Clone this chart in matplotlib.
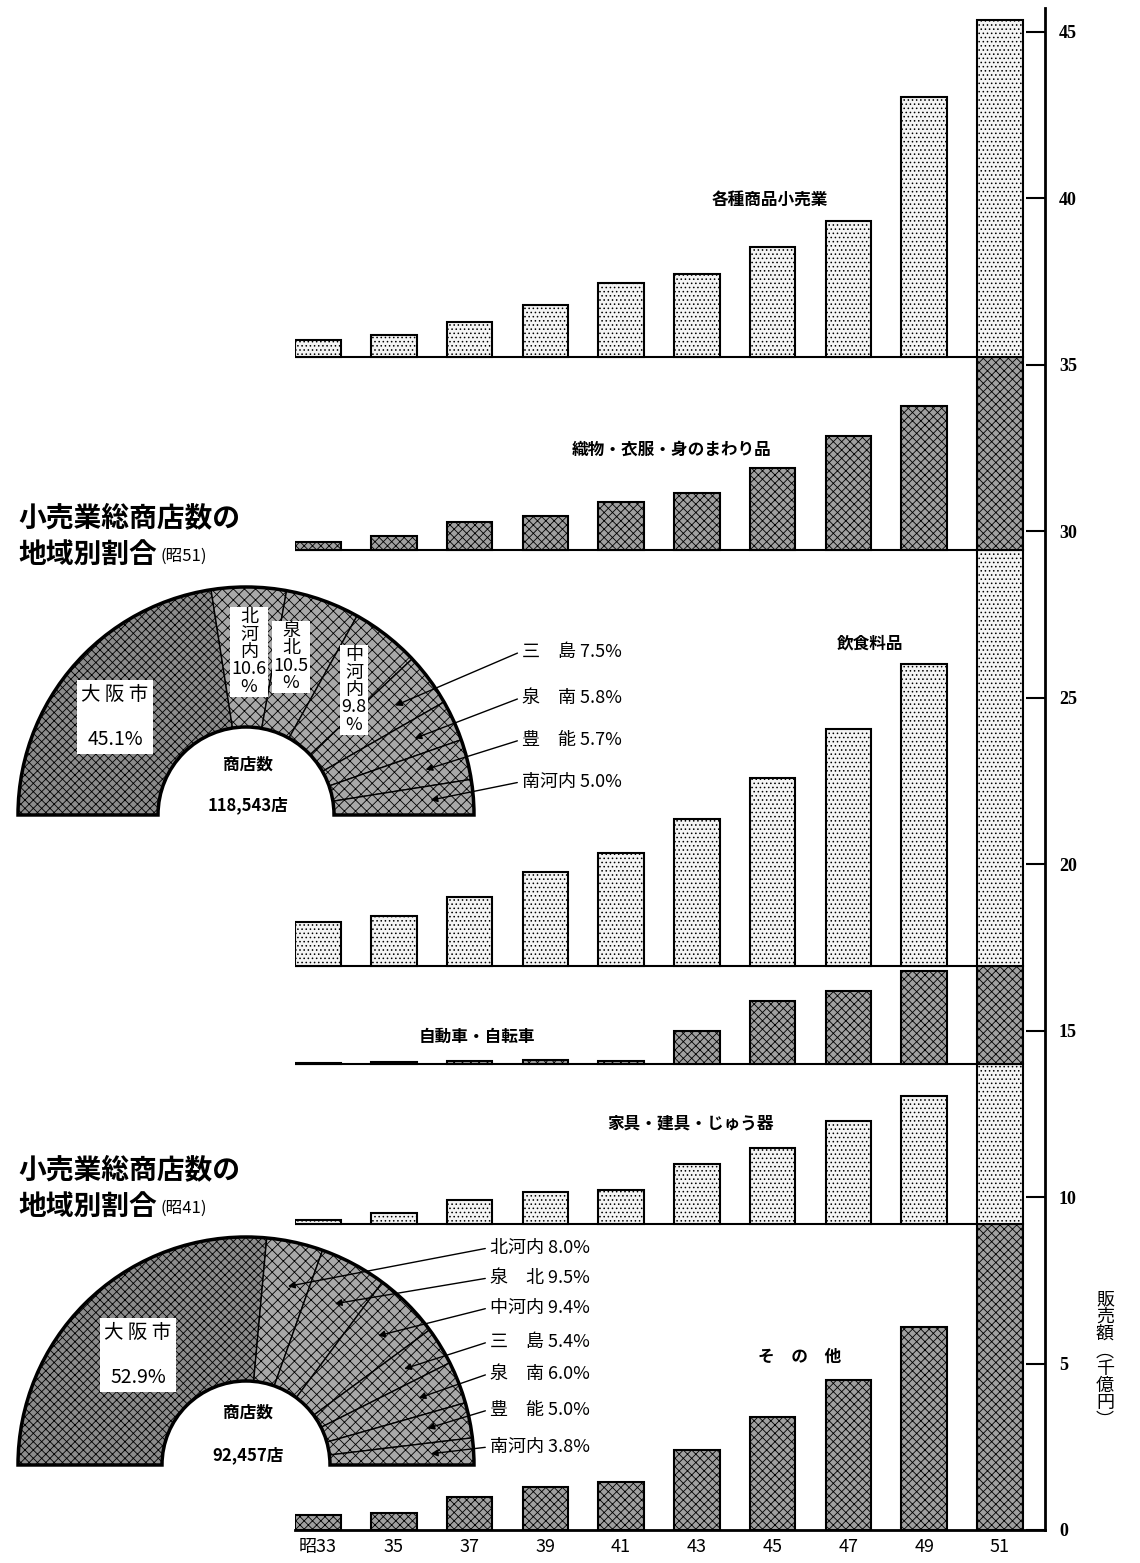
import numpy as np
import matplotlib
matplotlib.use('Agg')
import matplotlib.pyplot as plt

plt.rcParams['font.family'] = ['Noto Sans CJK JP', 'DejaVu Sans']
plt.rcParams['hatch.linewidth'] = 0.6

# 販売額 (千億円), each category drawn on its own band
years = ['昭33', '35', '37', '39', '41', '43', '45', '47', '49', '51']
sonota = [0.45, 0.5, 1.0, 1.3, 1.45, 2.4, 3.4, 4.5, 6.1, 9.2]
kagu = [0.12, 0.33, 0.72, 0.96, 1.02, 1.8, 2.28, 3.1, 3.85, 4.8]
jidosha = [0.03, 0.06, 0.09, 0.12, 0.09, 1.0, 1.9, 2.2, 2.8, 2.95]
inshoku = [1.32, 1.5, 2.07, 2.82, 3.4, 4.4, 5.65, 7.1, 9.07, 12.5]
orimono = [0.24, 0.42, 0.84, 1.02, 1.44, 1.71, 2.46, 3.4, 4.33, 5.8]
kakushu = [0.51, 0.66, 1.05, 1.56, 2.22, 2.49, 3.3, 4.08, 7.8, 10.1]
cat_labels = ['そ　の　他', '家具・建具・じゅう器', '自動車・自転車', '飲食料品',
              '織物・衣服・身のまわり品', '各種商品小売業']

# 小売業総商店数の地域別割合 (%)
regions = ['大阪市', '北河内', '泉北', '中河内', '三島', '泉南', '豊能', '南河内']
share51 = [45.1, 10.6, 10.5, 9.8, 7.5, 5.8, 5.7, 5.0]
share41 = [52.9, 8.0, 9.5, 9.4, 5.4, 6.0, 5.0, 3.8]
shops51 = '118,543店'
shops41 = '92,457店'

W, H = 1140, 1563
fig = plt.figure(figsize=(W / 100, H / 100), dpi=100)


def fx(x):
    return x / W


def fy(y):
    return 1 - y / H


dot = dict(facecolor='#f4f4f4', edgecolor='black', hatch='....', linewidth=1.5)
dark = dict(facecolor='#a0a0a0', edgecolor='black', hatch='xxxx', linewidth=1.5)

# ---- bar chart ----
y0_px, y45_px, top_px = 1530, 32, 8
ppu = (y0_px - y45_px) / 45
left_px, right_px = 295, 1045
ax = fig.add_axes([fx(left_px), fy(y0_px), (right_px - left_px) / W, (y0_px - top_px) / H])
x = np.arange(len(years))
step = (1000 - 318) / 9
ax.set_xlim((left_px - 318) / step, (right_px - 318) / step)
ax.set_ylim(0, (y0_px - top_px) / ppu)

series = [sonota, kagu, jidosha, inshoku, orimono, kakushu]
styles = [dark, dot, dark, dot, dark, dot]
width = 0.6
base = 0
for vals, st in zip(series, styles):
    ax.bar(x, vals, width=width, bottom=base, zorder=3, **st)
    if base > 0:
        ax.hlines(base, ax.get_xlim()[0], x[-1] - width / 2, color='black', lw=1.5, zorder=2)
    base += vals[-1]

ax.yaxis.tick_right()
ax.set_yticks(range(0, 46, 5))
ax.tick_params(axis='y', direction='in', length=14, width=1.5, pad=10)
for lab in ax.get_yticklabels():
    lab.set_family(['Liberation Serif'])
    lab.set_fontweight('bold')
    lab.set_fontsize(13)
ax.set_xticks(x)
ax.set_xticklabels(years, fontsize=13)
ax.tick_params(axis='x', length=0, pad=6)
for s in ['left', 'top']:
    ax.spines[s].set_visible(False)
ax.spines['right'].set_linewidth(2)
ax.spines['bottom'].set_linewidth(2)
ax.patch.set_visible(False)

cat_pos = [(800, 1357), (690, 1124), (477, 1037), (870, 643), (672, 450), (770, 200)]
for lab, (px, py) in zip(cat_labels, cat_pos):
    fig.text(fx(px), fy(py), lab, ha='center', va='center', fontsize=12, fontweight='bold')

fig.text(fx(1105), fy(1360), '販\n売\n額\n︵\n千\n億\n円\n︶', ha='center', va='center',
         fontsize=13, linespacing=0.95)


# ---- half donuts ----
def donut(cx, cy, R, r, shares):
    axd = fig.add_axes([fx(cx - R), fy(cy + R), 2 * R / W, 2 * R / H])
    vals = shares + [sum(shares)]
    wedges, _ = axd.pie(vals, startangle=180, counterclock=False, radius=1,
                        wedgeprops=dict(width=1 - r / R, edgecolor='black', linewidth=1))
    wedges[-1].set_visible(False)
    for i, w in enumerate(wedges[:-1]):
        if i == 0:
            w.set_facecolor('#8c8c8c')
            w.set_hatch('xxxx')
        else:
            w.set_facecolor('#a8a8a8')
            w.set_hatch('xxx')
    outline, _ = axd.pie([1, 1], startangle=180, counterclock=False, radius=1,
                         wedgeprops=dict(width=1 - r / R, fill=False, edgecolor='black', linewidth=2.5))
    outline[1].set_visible(False)
    axd.set_xlim(-1, 1)
    axd.set_ylim(-1, 1)
    axd.axis('off')
    return axd, wedges


def callouts(axd, wedges, idx, names, shares, lx, ly_list):
    for i, ly in zip(idx, ly_list):
        w = wedges[i]
        mid = np.deg2rad((w.theta1 + w.theta2) / 2)
        name = names[i]
        if len(name) == 2:
            name = name[0] + '　' + name[1]
        axd.annotate('', xy=(0.8 * np.cos(mid), 0.8 * np.sin(mid)), xycoords='data',
                     xytext=(lx - 2, H - ly), textcoords='figure pixels',
                     arrowprops=dict(arrowstyle='-|>', color='black', lw=1, mutation_scale=10),
                     annotation_clip=False)
        fig.text(fx(lx), fy(ly), f'{name} {shares[i]:.1f}%', ha='left', va='center', fontsize=13)


# 昭51
ax51, w51 = donut(246, 815, 228, 88, share51)
callouts(ax51, w51, [4, 5, 6, 7], regions, share51, 522, [652, 698, 740, 782])
box = dict(facecolor='white', edgecolor='none', pad=1)
fig.text(fx(249), fy(652), '北\n河\n内\n10.6\n%', ha='center', va='center', fontsize=13,
         linespacing=0.95, bbox=box)
fig.text(fx(291), fy(657), '泉\n北\n10.5\n%', ha='center', va='center', fontsize=13,
         linespacing=0.95, bbox=box)
fig.text(fx(354), fy(690), '中\n河\n内\n9.8\n%', ha='center', va='center', fontsize=13,
         linespacing=0.95, bbox=box)
fig.text(fx(115), fy(717), '大 阪 市\n\n45.1%', ha='center', va='center', fontsize=14,
         linespacing=1.1, bbox=dict(facecolor='white', edgecolor='none', pad=3))
fig.text(fx(248), fy(765), '商店数', ha='center', va='center', fontsize=12, fontweight='bold')
fig.text(fx(248), fy(805), shops51, ha='center', va='center', fontsize=12, fontweight='bold')

# 昭41
ax41, w41 = donut(246, 1465, 228, 84, share41)
callouts(ax41, w41, [1, 2, 3, 4, 5, 6, 7], regions, share41, 490,
         [1248, 1278, 1308, 1342, 1374, 1410, 1447])
fig.text(fx(138), fy(1355), '大 阪 市\n\n52.9%', ha='center', va='center', fontsize=14,
         linespacing=1.1, bbox=dict(facecolor='white', edgecolor='none', pad=3))
fig.text(fx(248), fy(1413), '商店数', ha='center', va='center', fontsize=12, fontweight='bold')
fig.text(fx(248), fy(1455), shops41, ha='center', va='center', fontsize=12, fontweight='bold')

# titles
for y1, sub in [(518, '(昭51)'), (1170, '(昭41)')]:
    fig.text(fx(18), fy(y1), '小売業総商店数の', ha='left', va='center', fontsize=20, fontweight='bold')
    fig.text(fx(18), fy(y1 + 37), '地域別割合', ha='left', va='center', fontsize=20, fontweight='bold')
    fig.text(fx(160), fy(y1 + 38), sub, ha='left', va='center', fontsize=12)

fig.savefig('out.png', dpi=100)
